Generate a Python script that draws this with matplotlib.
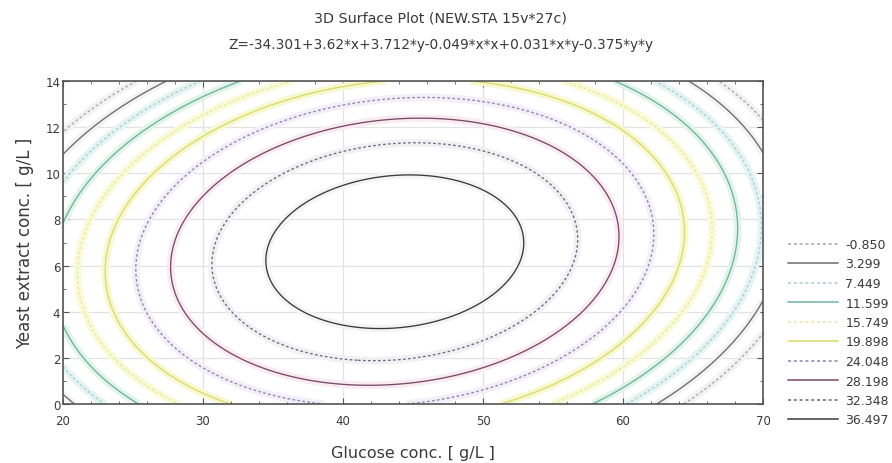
import numpy as np
import matplotlib
matplotlib.use('Agg')
import matplotlib.pyplot as plt
from matplotlib.lines import Line2D

plt.rcParams['font.family'] = ['DejaVu Sans']

# ---- data ----
title_1 = '3D Surface Plot (NEW.STA 15v*27c)'
title_2 = 'Z=-34.301+3.62*x+3.712*y-0.049*x*x+0.031*x*y-0.375*y*y'
x_label = 'Glucose conc. [ g/L ]'
y_label = 'Yeast extract conc. [ g/L ]'

# quadratic response surface, shape terms as in the title,
# peak height and position estimated from the drawn contours
peak_z = 40.6
peak_x = 43.7
peak_y = 6.6
coef_xx = -0.049
coef_xy = 0.031
coef_yy = -0.375

x_range = [20, 70]
y_range = [0, 14]
x_ticks = [20, 30, 40, 50, 60, 70]
y_ticks = [0, 2, 4, 6, 8, 10, 12, 14]

levels = [-0.850, 3.299, 7.449, 11.599, 15.749, 19.898, 24.048, 28.198, 32.348, 36.497]
level_labels = ['-0.850', '3.299', '7.449', '11.599', '15.749',
                '19.898', '24.048', '28.198', '32.348', '36.497']

# ---- styles ----
line_colors = ['#a6a6a6', '#6c6c6c', '#a4cfcb', '#6cb59a', '#e6e6a4',
               '#dada6c', '#8a84b0', '#7a4a66', '#6a6a7a', '#3a3a3a']
band_colors = ['#f2f2f2', '#f3f3f3', '#e4f4f4', '#e2f4ea', '#fafad6',
               '#f8f8d0', '#f2eff8', '#f8ebf1', '#f1f1f5', '#f4f4f4']
dotted = (0, (2.0, 1.8))
line_styles = [dotted, '-', dotted, '-', dotted, '-', dotted, '-', dotted, '-']
text_col = '#3a3a3a'

# ---- surface ----
gx = np.linspace(x_range[0], x_range[1], 300)
gy = np.linspace(y_range[0], y_range[1], 200)
X, Y = np.meshgrid(gx, gy)
dx = X - peak_x
dy = Y - peak_y
Z = peak_z + coef_xx * dx * dx + coef_xy * dx * dy + coef_yy * dy * dy

fig = plt.figure(figsize=(8.92, 4.64), dpi=100)
ax = fig.add_axes([63 / 892, 59 / 464, 700 / 892, 323 / 464])

ax.grid(True, color='#e2e2e2', lw=0.9, zorder=0)
ax.set_axisbelow(True)

# pale wide bands behind the lines
ax.contour(X, Y, Z, levels=levels, colors=band_colors, linewidths=5.5,
           linestyles='-', zorder=1)
ax.contour(X, Y, Z, levels=levels, colors=line_colors, linewidths=0.95,
           linestyles=line_styles, zorder=2)

ax.set_xlim(x_range)
ax.set_ylim(y_range)
ax.set_xticks(x_ticks)
ax.set_yticks(y_ticks)
ax.set_xticks(np.arange(20, 71, 2), minor=True)
ax.set_yticks(np.arange(0, 15, 1), minor=True)
ax.tick_params(which='both', direction='in', top=True, right=True,
               color='#555555', labelsize=8.5, labelcolor=text_col)
ax.tick_params(axis='x', pad=7)
ax.tick_params(axis='y', pad=2)
ax.tick_params(which='major', length=4)
ax.tick_params(which='minor', length=2.5)
for s in ax.spines.values():
    s.set_color('#555555')
    s.set_linewidth(1.2)

ax.set_xlabel(x_label, fontsize=11.5, color=text_col, labelpad=13)
ax.set_ylabel(y_label, fontsize=12, color=text_col, labelpad=8)

fig.text(441 / 892, 1 - 18 / 464, title_1, ha='center', va='center',
         fontsize=10.3, color=text_col)
fig.text(441 / 892, 1 - 45 / 464, title_2, ha='center', va='center',
         fontsize=9.9, color=text_col)

handles = [Line2D([], [], color=c, ls=s, lw=1.1)
           for c, s in zip(line_colors, line_styles)]
fig.legend(handles, level_labels, loc='upper left',
           bbox_to_anchor=(788 / 892, 1 - 239 / 464), frameon=False,
           fontsize=9, labelcolor=text_col, handlelength=4.0,
           handletextpad=0.6, labelspacing=0.52, borderaxespad=0,
           borderpad=0)

fig.savefig('out.png', dpi=100)
